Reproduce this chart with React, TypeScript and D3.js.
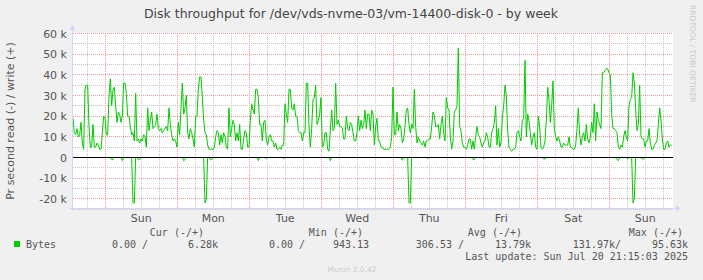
import React from 'react';
import * as d3 from 'd3';

const W = 703;
const H = 280;
const startMs = Date.UTC(2025, 6, 12, 13, 15);
const endMs = Date.UTC(2025, 6, 20, 21, 15);
const stepMs = 1600 * 1000;

// write (+) in k bytes/s, one sample per step
const writeValues = [
  19,12,11,14,10,11,17,7,4,33, 35,35,15,5,5,16,5,5,7,6,
  4,4,12,20,19,11,11,30,38,25, 33,34,25,17,22,21,17,20,36,36,
  31,20,20,15,11,12,8,31,8,9, 7,9,8,11,10,5,24,13,18,22,
  14,15,16,21,14,13,14,12,13,14, 15,13,24,16,11,8,9,
  8,5,17,11,24,36,21,24,30,12, 9,14,12,9,5,20,20,33,39,39,
  29,18,12,11,6,4,4,4,4,5, 10,13,12,6,11,7,12,10,5,4,
  24,10,14,18,16,8,12,8,16,4, 4,9,13,12,5,5,18,26,23,21,
  33,33,29,16,16,8,17,18,9,6, 10,11,8,8,5,
  7,4,4,5,4,6,6,26,21,17, 33,33,24,23,26,20,20,13,12,12,
  8,12,12,36,36,15,5,14,28,29, 35,16,18,21,29,5,6,12,12,4,
  3,13,23,13,14,36,16,18,15,15, 14,9,9,20,14,13,17,16,12,8,
  8,12,20,13,18,14,16,23,14,21, 21,13,23,21,6,
  15,19,8,8,5,5,4,4,4,4, 4,5,10,34,11,11,22,13,16,14,
  7,9,15,23,24,16,12,16,14,33, 15,7,10,8,7,6,8,5,8,8,
  9,9,15,22,20,15,15,16,9,16, 20,12,8,29,24,23,10,4,8,22,
  23,25,53,15,13,7,5,5,4,6, 9,9,4,8,4,
  10,15,11,10,7,5,7,8,12,10, 5,5,12,14,17,25,6,14,5,7,
  19,25,35,30,13,5,4,3,4,4, 5,12,13,10,8,18,19,47,10,21,
  18,12,6,10,12,5,4,20,15,5, 4,5,8,18,34,28,17,25,37,14,
  10,8,10,8,5,5,7,6,6,6, 10,5,5,4,4,
  6,14,24,11,6,10,12,8,16,9, 7,10,17,12,26,8,22,18,16,14,
  41,41,42,43,43,41,40,21,14,14, 13,12,5,4,6,5,10,13,10,8,
  25,28,29,41,36,23,13,16,35,10, 9,9,5,8,8,14,7,4,4,6,
  7,8,16,24,18,9,4,4,7,8, 5,6,6,
];

// read (-) in k bytes/s, one sample per step (drawn negated)
const readValues = [
  0,0,0,0,0,0,0,0,0,0, 0,0,0,0,0,0,0,0,0,0, 0,0,0,0,0,0,0,0,0,1,
  1,0,0,0,0,0,0,1.5,0,0, 0,0,0,0,0,22,22,0,0,1, 1,0,0,0,0,0,0,0,0,0,
  0,0,0,0,0,0,0,0,0,0, 0,0,0,0,0,0,0,0,0,0, 0,0,0,1.5,1,0,0,0,0,0,
  0,0,0,0,0,0,0,0,0,22, 20,0,0,1,1,0,0,0,0,0, 0,0,0,0,0,0,0,0,0,0,
  0,0,0,0,0,0,0,0,0,0, 0,0,0,0,0,0,0,0,0,1.5, 0,0,0,0,0,0.5,0,0,0,0,
  0,0,0,0,0,0,0,0,0.5,0, 0,0,0,0,0,0,0,0,0,0, 0,0,0,0,0,0,0,0,0,0,
  0,0,0,0,0,0,0,0,0,0, 0,0,0,1.5,0,0,0,0,0,0, 0,0,0,0,0,0,0,0,0,0,
  0,0,0,0,0,0,0,0,0,0, 0,0,0,0,0,0,0,0,0,0, 0,0,0,0,0,0,0,0,0,0,
  0,0,0,0,0,0,0,1.3,0,0, 0,0,22,22,0,0,0,0,0,0, 0,0,0,0,0,0,0.5,0,0,0,
  0,0,0,0,0,0,0,0,0,0, 0,0,0,0,0,0,0,0,0,0, 0,0,0,0,0,0,0,0,0,0,
  1,1,0,0,0,0,0,0,0.5,0, 0,0,0,0,0,0,0,0,0,0, 0,0,0,0,0,0,0,0,0,0,
  0,0,0,0,0,0,0,0,0,0, 0,0,0,0,0,0,0,0,0,0, 0,0,0,0.7,0.7,0,0,0,0,0,
  0,0,0,0,0,0,0,0,0,0, 0,0,0,0,0,0,0,0,0,0, 0,0,0,0,0,0,0,0,0,0,
  0,0,0,0,0,0,0,0,0,0, 0,0,0,0,0,0,0,0,1,1.5, 0,0,0,0,0,0,0.7,0,0,0,
  22,20,0,0,0,0,0,0.7,0.7,0, 0,0,0,0,0,0,0,0,0,0, 0,0,0,0,0,0,0,0,0,0,
];

const yTickValues = [-20, -10, 0, 10, 20, 30, 40, 50, 60];
const yTickLabels = ['-20 k', '-10 k', '0', '10 k', '20 k', '30 k', '40 k', '50 k', '60 k'];
const dayLabels = ['Sun', 'Mon', 'Tue', 'Wed', 'Thu', 'Fri', 'Sat', 'Sun'];
const legendHeaders = ['Cur (-/+)', 'Min (-/+)', 'Avg (-/+)', 'Max (-/+)'];
const legendRead = ['0.00 /', '0.00 /', '306.53 /', '131.97k/'];
const legendWrite = ['6.28k', '943.13', '13.79k', '95.63k'];
const seriesName = 'Bytes';
const title = 'Disk throughput for /dev/vds-nvme-03/vm-14400-disk-0 - by week';
const yLabel = 'Pr second read (-) / write (+)';
const lastUpdate = 'Last update: Sun Jul 20 21:15:03 2025';

const PL = 73, PR = 673, PT = 33, PB = 209;
const FONT = 'DejaVu Sans, sans-serif';
const MONO = 'DejaVu Sans Mono, monospace';
const TXT = '#555';

export default function App() {
  const x = d3.scaleUtc().domain([new Date(startMs), new Date(endMs)]).range([PL, PR]);
  // 0 -> 157.5, 60k -> 33.5
  const y = d3.scaleLinear().domain([-25, 60]).range([157.5 + 25 * (124 / 60), 33.5]);
  const tOf = (i: number) => new Date(startMs + i * stepMs);

  const line = d3.line<number>().x((_, i) => x(tOf(i))).y((d) => y(d)).curve(d3.curveLinear);
  const readLine = d3.line<number>().x((_, i) => x(tOf(i))).y((d) => y(-d)).curve(d3.curveLinear);

  const midnights = d3.utcDay.range(new Date(startMs), new Date(endMs));
  const sixHours = d3.utcHour.every(6)!.range(new Date(startMs), new Date(endMs))
    .filter((d) => d.getUTCHours() !== 0);
  const minorY = d3.range(-25, 61, 5).filter((v) => v % 10 !== 0);
  const px = (v: number) => Math.floor(v) + 0.5;

  const headerRight = [204, 363, 522, 683];
  const readRight = [148, 305, 464, 621];
  const writeRight = [218, 369, 531, 688];

  return (
    <svg width={W} height={H} style={{ position: 'absolute', left: 0, top: 0, background: '#f0f0f0' }}>
      <rect x={0} y={0} width={W} height={H} fill="#f0f0f0" />
      <rect x={PL} y={PT} width={PR - PL} height={PB - PT} fill="#ffffff" />
      {/* minor grid */}
      <g stroke="#c8c8c8" strokeWidth={1} strokeDasharray="1,1" shapeRendering="crispEdges">
        {sixHours.map((d, i) => (
          <line key={'mv' + i} x1={px(x(d))} x2={px(x(d))} y1={PT} y2={PB} />
        ))}
        {minorY.map((v) => (
          <line key={'mh' + v} x1={PL} x2={PR} y1={px(y(v))} y2={px(y(v))} />
        ))}
      </g>
      {/* major grid */}
      <g stroke="#f29a9a" strokeWidth={1} strokeDasharray="1,1" shapeRendering="crispEdges">
        {midnights.map((d, i) => (
          <line key={'Mv' + i} x1={px(x(d))} x2={px(x(d))} y1={PT} y2={PB} />
        ))}
        {yTickValues.map((v) => (
          <line key={'Mh' + v} x1={PL} x2={PR} y1={px(y(v))} y2={px(y(v))} />
        ))}
      </g>
      {/* series */}
      <path d={readLine(readValues) || ''} fill="none" stroke="#00cc00" strokeWidth={1} />
      <path d={line(writeValues) || ''} fill="none" stroke="#00cc00" strokeWidth={1} />
      {/* zero line */}
      <line x1={PL} x2={PR} y1={y(0)} y2={y(0)} stroke="#000" strokeWidth={1} shapeRendering="crispEdges" />
      {/* axes */}
      <g stroke="#cfd6f8" strokeWidth={1} shapeRendering="crispEdges">
        <line x1={PL - 3} x2={PR + 3} y1={208.5} y2={208.5} />
        <line x1={PL - 0.5} x2={PL - 0.5} y1={211} y2={PT - 3} />
      </g>
      <path d={`M${PR + 3},${205.5}L${PR + 8},${208.5}L${PR + 3},${211.5}Z`} fill="#cfd6f8" />
      <path d={`M${PL - 3.5},${PT - 3}L${PL - 0.5},${PT - 8}L${PL + 2.5},${PT - 3}Z`} fill="#cfd6f8" />
      {/* y tick labels */}
      <g fontFamily={FONT} fontSize={11} fill={TXT} textAnchor="end">
        {yTickValues.map((v, i) => (
          <text key={'yl' + v} x={67} y={y(v) + 4}>{yTickLabels[i]}</text>
        ))}
      </g>
      {/* x day labels */}
      <g fontFamily={FONT} fontSize={11} fill={TXT} textAnchor="middle">
        {midnights.map((d, i) => (
          <text key={'xl' + i} x={x(d3.utcHour.offset(d, 12))} y={222}>{dayLabels[i]}</text>
        ))}
      </g>
      {/* title */}
      <text x={351} y={18} textAnchor="middle" fontFamily={FONT} fontSize={12.5} fill="#444">{title}</text>
      {/* y label */}
      <text transform={`translate(14,${(PT + PB) / 2}) rotate(-90)`} textAnchor="middle" fontFamily={FONT} fontSize={11} fill={TXT}>{yLabel}</text>
      {/* watermark */}
      <text transform="translate(690,5) rotate(90)" fontFamily={FONT} fontSize={7.6} fill="#c8c8c8">RRDTOOL / TOBI OETIKER</text>
      {/* legend */}
      <rect x={14} y={241} width={6} height={6} fill="#00cc00" />
      <g fontFamily={MONO} fontSize={10} fill={TXT}>
        <text x={26} y={248}>{seriesName}</text>
        {legendHeaders.map((h, i) => (
          <text key={'lh' + i} x={headerRight[i]} y={236} textAnchor="end">{h}</text>
        ))}
        {legendRead.map((h, i) => (
          <text key={'lr' + i} x={readRight[i]} y={248} textAnchor="end" xmlSpace="preserve">{h}</text>
        ))}
        {legendWrite.map((h, i) => (
          <text key={'lw' + i} x={writeRight[i]} y={248} textAnchor="end">{h}</text>
        ))}
        <text x={688} y={260} textAnchor="end">{lastUpdate}</text>
      </g>
      <text x={352} y={272} textAnchor="middle" fontFamily={FONT} fontSize={7.5} fill="#cccccc">Munin 2.0.42</text>
    </svg>
  );
}
